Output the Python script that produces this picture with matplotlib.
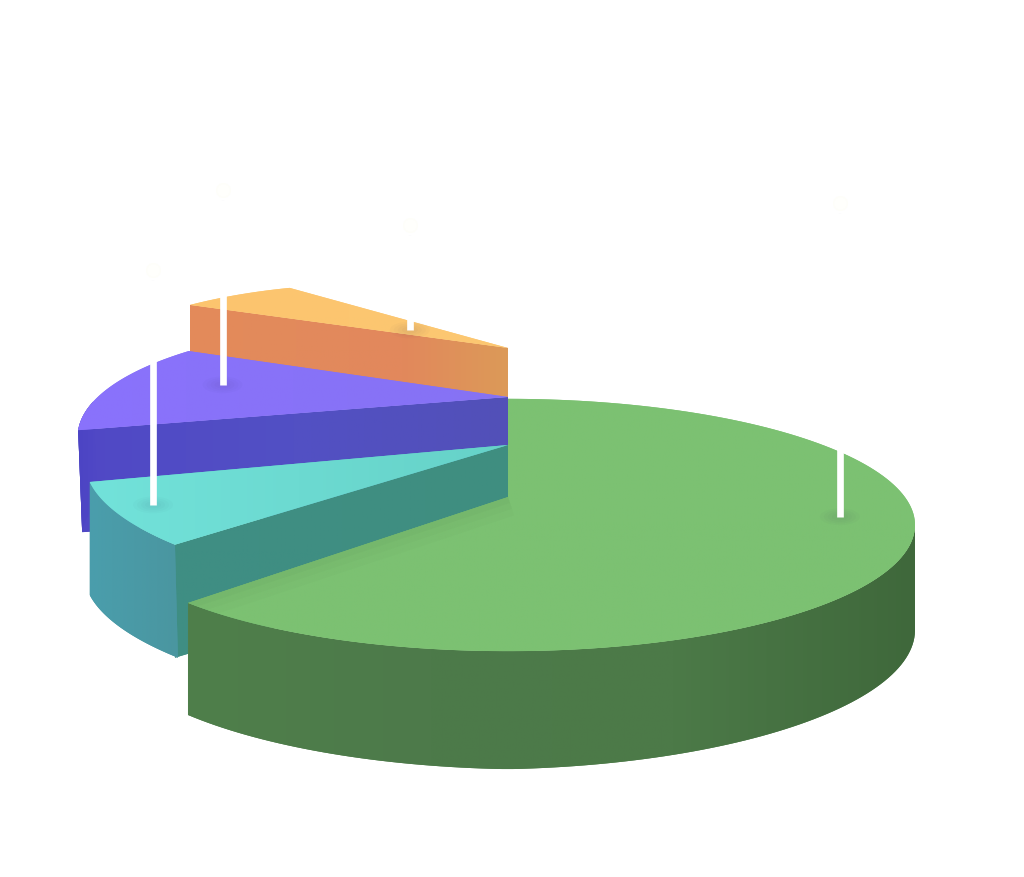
import numpy as np
import matplotlib
matplotlib.use("Agg")
import matplotlib.pyplot as plt
from matplotlib.colors import LinearSegmentedColormap as LSC
from matplotlib.patches import Polygon, Ellipse

# slice shares, percent of the full circle
slice_names = ["Green", "Teal", "Purple", "Orange"]
slice_values = [64.4, 7.8, 10.8, 5.0]

# layout
TILT = 0.31
START = {"Green": 0.0, "Teal": 226.0, "Purple": 256.0, "Orange": 293.6}
APEX = {"Green": (508, 497), "Teal": (508, 445), "Purple": (508, 397), "Orange": (508, 348)}
CENTER = {"Green": (508, 525), "Teal": (508, 445), "Purple": (508, 397), "Orange": (508, 348)}
R0R1 = {"Green": (407, 407), "Teal": (463, 435), "Purple": (443, 352), "Orange": (347, 292)}
HEIGHT = {"Teal": 113, "Purple": 102, "Orange": 49}
GREEN_RIM_ANGLE = [90, 180, 232]
GREEN_RIM_H = [105, 118, 112]
TOP = {"Green": ["#7cc172", "#7cc172"], "Teal": ["#72e2da", "#66d2c8"],
       "Purple": ["#8a72fc", "#8672f4"], "Orange": ["#fcc46e", "#fcc872"]}
RADIAL = {"Teal": ["#3f8e84", "#3f8e80"], "Purple": ["#5048c6", "#5250c4", "#5250b8"],
          "Orange": ["#e48a5a", "#e28a5c", "#e2885c", "#dc9a58"]}
OUTER = {"Green": ["#4f7f4b", "#4d7a4a", "#4c7a48", "#3f683b"], "Teal": ["#4a9eac", "#4a96a0"],
         "Purple": ["#4c44c4", "#5048c6"], "Orange": ["#e58a5c", "#e58a5c"]}
LEADER = {"Green": (-30.5, 0.818, 304), "Teal": (1.4, 0.90, 225), "Purple": (2.4, 0.725, 185), "Orange": (-2, 0.357, 95)}

fig = plt.figure(figsize=(10.24, 8.77), dpi=100, facecolor="white")
ax = fig.add_axes([0, 0, 1, 1])
ax.set_xlim(0, 1024)
ax.set_ylim(877, 0)
ax.axis("off")


def angles(name, i, n=160):
    sweep = slice_values[i] * 3.6
    return START[name] + sweep * np.linspace(0, 1, n)


def arc(name, th):
    cx, cy = CENTER[name]
    r0, r1 = R0R1[name]
    f = (th - th[0]) / (th[-1] - th[0])
    r = r0 + (r1 - r0) * f
    t = np.radians(th)
    return np.c_[cx + r * np.sin(t), cy - TILT * r * np.cos(t)]


def fill(pts, colors, z):
    pts = np.asarray(pts)
    cmap = LSC.from_list("c", colors)
    ax.add_patch(Polygon(pts, closed=True, fc=colors[len(colors) // 2], ec="none", zorder=z))
    g = np.linspace(0, 1, 256)[None, :]
    x0, y0 = pts.min(0)
    x1, y1 = pts.max(0)
    im = ax.imshow(g, cmap=cmap, extent=(x0, x1, y1, y0), aspect="auto", zorder=z + 0.1)
    im.set_clip_path(Polygon(pts, closed=True, transform=ax.transData))


z = 2
for name in ["Orange", "Purple", "Teal", "Green"]:
    i = slice_names.index(name)
    th = angles(name, i)
    pts = arc(name, th)
    apex = np.array(APEX[name], float)
    if name != "Green":
        h = np.array([0, HEIGHT[name]])
        end = pts[0]
        foot = end + h + (np.array([4, 0]) if name == "Purple" else 0)
        fill([apex, end, foot, apex + h], RADIAL[name], z)
        z += 1
    if name == "Green":
        keep = th >= 90
        rim = pts[keep]
        hs = np.interp(th[keep], GREEN_RIM_ANGLE, GREEN_RIM_H)
        low = rim + np.c_[np.zeros_like(hs), hs]
        fill(np.r_[rim, low[::-1]], OUTER[name], z)
        z += 1
    elif name in ("Purple", "Teal"):
        rim = pts if name == "Teal" else pts[:50]
        f = np.linspace(0, 1, len(rim))
        skew = np.full(len(rim), 4.0) if name == "Purple" else 3 * (1 - f)
        low = rim + np.c_[skew, np.full(len(rim), HEIGHT[name])]
        fill(np.r_[rim, low[::-1]], OUTER[name], z)
        z += 1
    top = np.r_[[apex], pts]
    fill(top, TOP[name], z)
    z += 1
    if name == "Green":
        # soft shade along the cut edge of the green slice
        clip = Polygon(top, closed=True, transform=ax.transData)
        for lw, a in [(28, 0.035), (18, 0.04), (9, 0.05)]:
            ln, = ax.plot([apex[0], pts[-1, 0]], [apex[1], pts[-1, 1]], color="#4a7a48",
                          lw=lw, alpha=a, zorder=z, solid_capstyle="butt")
            ln.set_clip_path(clip)
        z += 1

# leader lines rising out of each slice
for name, val in zip(slice_names, slice_values):
    d, rf, length = LEADER[name]
    sweep = val * 3.6
    mid = np.radians(START[name] + sweep / 2 + d)
    cx, cy = CENTER[name]
    r = np.mean(R0R1[name]) * rf
    x = cx + r * np.sin(mid)
    y = cy - TILT * r * np.cos(mid)
    for w in [40, 32, 24, 16]:
        ax.add_patch(Ellipse((x, y), w, w * 0.42, fc="#202040", ec="none", alpha=0.018, zorder=28))
    ax.plot([x, x], [y, y - length], color="white", lw=4.8, solid_capstyle="butt", zorder=31)
    ax.plot([x, x], [y, y - length], color="#f7f8fa", lw=1.6, alpha=0.6, solid_capstyle="butt", zorder=30)
    ax.plot([x], [y - length - 10], "o", ms=10, mfc="#fffffc", mec="#fefef9", mew=0.8, zorder=29)

fig.savefig("out.png", dpi=100, facecolor="white")
